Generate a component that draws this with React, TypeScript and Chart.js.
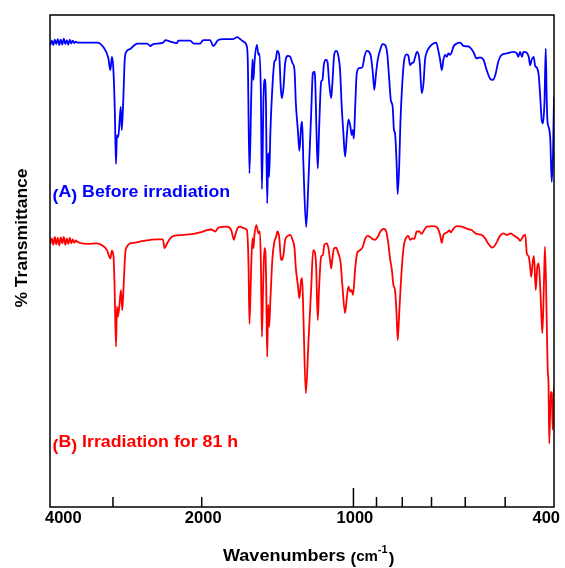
import React, { useEffect, useRef } from "react";
import { Chart, registerables } from "chart.js";

Chart.register(...registerables);

// Spectrum (A): before irradiation — wavenumber (cm-1) and transmittance (arb. %)
const wavenumbersA = [
  3995, 3967, 3940, 3913, 3887, 3860, 3834, 3808, 3781, 3756,
  3729, 3705, 3679, 3654, 3629, 3605, 3580, 3555, 3531,
  3376, 3223, 3136, 3065, 3037, 3014, 2996, 2975, 2959, 2946,
  2928, 2908, 2895, 2882, 2862, 2843, 2823, 2772, 2685, 2565,
  2530, 2496, 2384, 2363, 2309, 2237, 2227, 2108, 2076, 2014,
  1986, 1924, 1898, 1855, 1813, 1732, 1701, 1678, 1653, 1627,
  1620, 1608, 1595, 1586, 1579, 1572, 1555, 1543, 1536, 1526,
  1519, 1508, 1499, 1492, 1483, 1476, 1470, 1461, 1448, 1435,
  1426, 1417, 1404, 1393, 1387, 1377, 1366, 1349, 1335, 1321,
  1309, 1301, 1289, 1280, 1270, 1264, 1257, 1241, 1228, 1213,
  1204, 1197, 1191, 1184, 1177, 1170, 1159, 1152, 1145, 1134,
  1126, 1117, 1107, 1101, 1092, 1082, 1074, 1063, 1055, 1047,
  1039, 1031, 1023, 1015, 1008, 1003, 998, 992, 985, 974,
  960, 951, 941, 931, 923, 915, 909, 902, 895, 885,
  876, 865, 857, 849, 843, 836, 831, 827, 821, 817,
  811, 807, 800, 793, 784, 778, 772, 766, 759, 754,
  748, 741, 738, 732, 726, 721, 715, 705, 694, 685,
  679, 673, 668, 663, 658, 653, 648, 643, 638, 633,
  624, 614, 605, 592, 578, 570, 561, 552, 544, 536,
  529, 523, 516, 508, 496, 488, 482, 474, 471, 467,
  463, 460, 454, 449, 446, 443, 439, 436, 432, 429,
  426.4, 423.1, 420.6, 417.7, 415.4, 413.5, 412.0, 409.2, 406.8, 404.2,
  401.8, 400,
];
const transmittanceA = [
  93.9, 94.8, 93.9, 95.0, 94.1, 95.1, 93.9, 95.0, 94.0, 95.2,
  94.1, 94.9, 94.0, 95.0, 94.2, 94.8, 94.3, 94.6, 94.4,
  94.4, 94.4, 93.5, 91.3, 88.8, 91.5, 89.4, 80.7, 69.7, 75.6,
  75.2, 79.1, 81.3, 76.6, 82.7, 90.9, 92.5, 93.1, 94.2, 94.2,
  93.7, 94.1, 94.4, 94.9, 94.6, 94.3, 94.8, 94.8, 94.2, 94.2,
  94.9, 94.9, 93.7, 94.9, 95.1, 95.1, 95.5, 95.1, 94.6, 93.6,
  90.2, 67.8, 83.4, 91.0, 86.8, 90.2, 93.9, 91.9, 92.2, 83.4,
  64.6, 83.4, 86.9, 83.4, 61.7, 71.9, 67.1, 76.6, 85.4, 90.5,
  90.9, 92.7, 91.9, 84.8, 83.1, 85.1, 90.2, 91.7, 91.5, 90.2,
  88.8, 82.1, 76.6, 72.4, 77.3, 78.3, 69.9, 56.9, 66.5, 80.0,
  88.1, 88.5, 86.8, 76.6, 68.8, 76.6, 86.4, 86.8, 89.8, 90.9,
  90.5, 86.1, 83.1, 86.1, 91.9, 92.7, 92.2, 88.8, 81.4, 76.0,
  71.2, 75.3, 78.8, 77.6, 75.6, 76.6, 74.9, 81.4, 88.1, 89.2,
  89.4, 91.5, 92.7, 92.5, 91.5, 88.1, 84.8, 88.1, 90.9, 92.9,
  94.1, 93.9, 92.2, 86.8, 82.7, 81.4, 76.6, 76.0, 69.9, 63.6,
  69.9, 78.0, 86.1, 90.9, 92.0, 91.7, 89.8, 90.2, 90.5, 91.5,
  92.5, 91.5, 89.7, 84.1, 86.2, 90.9, 92.5, 93.6, 94.2, 94.4,
  92.9, 90.9, 88.8, 90.9, 91.9, 91.5, 92.2, 91.9, 92.5, 93.6,
  94.2, 94.4, 93.7, 93.6, 92.5, 91.2, 91.4, 90.9, 88.8, 87.1,
  86.8, 87.8, 90.5, 91.9, 92.2, 92.4, 92.5, 92.2, 91.5, 92.5,
  91.5, 92.5, 92.4, 91.5, 89.8, 90.9, 91.5, 89.7, 89.2, 87.8,
  84.1, 78.7, 78.0, 82.7, 93.2, 82.7, 78.2, 77.0, 74.6, 66.1,
  72.0, 83.3,
];

// Spectrum (B): irradiation for 81 h
const wavenumbersB = [
  3995, 3967, 3940, 3913, 3887, 3860, 3834, 3808, 3781, 3756,
  3729, 3705, 3679, 3654, 3629, 3605, 3580, 3555, 3531,
  3376, 3225, 3132, 3083, 3037, 3014, 2992, 2978, 2959, 2946,
  2933, 2915, 2892, 2875, 2858, 2836, 2814, 2772, 2731, 2609,
  2454, 2388, 2370, 2345, 2309, 2275, 2173, 2076, 2014, 1953,
  1916, 1880, 1853, 1783, 1748, 1726, 1716, 1695, 1678, 1653,
  1627, 1615, 1608, 1595, 1586, 1579, 1572, 1558, 1543, 1533,
  1526, 1519, 1510, 1502, 1495, 1490, 1483, 1476, 1470, 1461,
  1448, 1435, 1424, 1415, 1404, 1393, 1387, 1377, 1366, 1349,
  1335, 1321, 1309, 1301, 1289, 1280, 1270, 1264, 1257, 1243,
  1228, 1213, 1202, 1195, 1186, 1177, 1170, 1159, 1150, 1142,
  1129, 1121, 1112, 1107, 1101, 1092, 1082, 1072, 1061, 1052,
  1039, 1031, 1023, 1014, 1008, 1002, 992, 983, 970, 958,
  948, 937, 927, 917, 906, 895, 884, 872, 863, 852,
  846, 839, 833, 827, 821, 817, 811, 807, 800, 793,
  784, 778, 772, 764, 757, 749, 740, 732, 724, 715,
  694, 682, 673, 668, 663, 653, 645, 641, 635, 624,
  610, 596, 583, 570, 557, 548, 540, 530, 521, 512,
  504, 496, 488, 482, 476, 471, 467, 463, 460, 456,
  453, 449, 446, 444, 440.3, 438.2, 434.9, 431.7, 428.9, 426.4,
  423.9, 421.8, 418.7, 416.8, 413.5, 411.7, 410.2, 408.7, 406.1, 404.2,
  402.4, 400,
];
const transmittanceB = [
  53.5, 54.6, 53.3, 54.9, 53.4, 54.7, 53.2, 54.8, 53.6, 54.9,
  53.3, 54.6, 53.5, 54.7, 53.6, 54.4, 53.7, 54.2, 53.9,
  53.5, 53.6, 53.0, 52.2, 50.5, 52.1, 50.9, 44.8, 32.6, 40.7,
  38.7, 40.7, 44.1, 40.0, 44.8, 51.6, 52.9, 53.6, 53.7, 54.1,
  54.4, 54.4, 52.6, 53.5, 54.6, 55.1, 55.3, 55.5, 55.8, 56.3,
  56.4, 56.0, 56.8, 57.0, 56.3, 54.3, 55.3, 56.8, 57.0, 56.7,
  56.3, 49.2, 37.2, 49.2, 54.6, 52.6, 55.3, 57.3, 55.6, 56.0,
  49.2, 34.6, 45.8, 52.6, 51.9, 45.8, 30.5, 41.1, 36.6, 42.4,
  50.5, 53.9, 54.9, 56.0, 54.9, 50.5, 50.2, 51.2, 54.3, 55.1,
  55.3, 54.3, 52.6, 48.5, 45.1, 42.4, 46.1, 46.5, 39.0, 23.1,
  33.6, 44.5, 52.2, 52.0, 49.2, 38.0, 44.5, 50.9, 51.2, 53.3,
  53.6, 52.6, 49.9, 48.5, 50.5, 52.6, 52.7, 51.6, 49.9, 45.1,
  39.4, 42.4, 44.8, 43.8, 44.1, 43.1, 48.5, 51.6, 52.2, 52.9,
  54.5, 55.1, 54.9, 54.5, 54.3, 54.9, 56.0, 56.5, 56.3, 53.3,
  50.5, 48.2, 45.1, 44.1, 39.0, 33.9, 39.7, 43.8, 49.9, 53.6,
  54.9, 55.1, 54.3, 54.6, 54.5, 56.0, 56.0, 55.5, 56.3, 57.0,
  57.1, 56.8, 55.3, 53.7, 55.3, 55.8, 56.2, 55.8, 56.4, 57.1,
  57.0, 56.6, 56.3, 55.5, 55.3, 54.6, 53.5, 52.7, 53.6, 55.1,
  55.6, 55.3, 55.6, 55.3, 54.9, 54.6, 54.1, 54.6, 55.1, 55.3,
  51.6, 50.9, 48.8, 46.8, 50.2, 51.0, 44.1, 48.8, 49.5, 45.5,
  39.4, 35.3, 46.1, 52.9, 38.0, 27.8, 25.2, 12.9, 23.4, 23.2,
  15.7, 24.5,
];

// Axis ticks and labels
const xMinorTicks = [3000, 2000, 1000, 900, 800, 700, 600, 500];
const xLabelValues = [4000, 2000, 1000, 400];
const xLabelTexts = ["4000", "2000", "1000", "400"];
const xRange = [400, 4000];
const yRange = [0, 100];

const seriesNames = ["(A) Before irradiation", "(B) Irradiation for 81 h"];

const FONT = '"Liberation Sans", Arial, Helvetica, sans-serif';

function drawStretched(ctx: CanvasRenderingContext2D, text: string, x: number, y: number, sx: number) {
  ctx.save();
  ctx.translate(x, y);
  ctx.scale(sx, 1);
  ctx.fillText(text, 0, 0);
  ctx.restore();
  return ctx.measureText(text).width * sx;
}

function drawParenLabel(ctx: CanvasRenderingContext2D, full: string, x: number, baseline: number, color: string) {
  const m = full.match(/^\((\w)\)\s(.*)$/);
  ctx.fillStyle = color;
  ctx.font = `bold 17px ${FONT}`;
  ctx.textAlign = "left";
  ctx.textBaseline = "alphabetic";
  const sx = 1.045;
  if (!m) {
    drawStretched(ctx, full, x, baseline, sx);
    return;
  }
  let cx = x;
  cx += drawStretched(ctx, "(", cx, baseline + 4, sx);
  cx += drawStretched(ctx, m[1], cx, baseline, sx);
  cx += drawStretched(ctx, ")", cx, baseline + 4, sx);
  cx += drawStretched(ctx, " ", cx, baseline, sx);
  drawStretched(ctx, m[2], cx, baseline, sx);
}

const overlayPlugin = {
  id: "irOverlay",
  afterDraw(chart: any) {
    const { ctx, chartArea } = chart;
    const { left, right, top, bottom } = chartArea;
    const xs = chart.scales.x;
    ctx.save();
    ctx.strokeStyle = "#000";
    ctx.lineWidth = 1.5;
    ctx.strokeRect(left, top, right - left, bottom - top);
    xMinorTicks.forEach((v) => {
      const px = xs.getPixelForValue(v);
      const len = v === 1000 ? 19 : 10;
      ctx.beginPath();
      ctx.moveTo(px, bottom);
      ctx.lineTo(px, bottom - len);
      ctx.stroke();
    });
    ctx.fillStyle = "#000";
    ctx.font = `bold 16.5px ${FONT}`;
    ctx.textBaseline = "alphabetic";
    xLabelValues.forEach((v, i) => {
      const px = xs.getPixelForValue(v);
      if (i === 0) {
        ctx.textAlign = "left";
        ctx.fillText(xLabelTexts[i], px - 5, bottom + 16);
      } else if (i === xLabelValues.length - 1) {
        ctx.textAlign = "right";
        ctx.fillText(xLabelTexts[i], px + 6, bottom + 16);
      } else {
        ctx.textAlign = "center";
        ctx.fillText(xLabelTexts[i], px + 1.5, bottom + 16);
      }
    });
    ctx.textAlign = "left";
    ctx.font = `bold 17px ${FONT}`;
    let tx = 223;
    const tb = 561;
    tx += drawStretched(ctx, "Wavenumbers ", tx, tb, 1.06);
    tx += drawStretched(ctx, "(", tx, tb + 3, 1.0);
    ctx.font = `bold 15px ${FONT}`;
    tx += drawStretched(ctx, "cm", tx, tb, 1.0);
    ctx.font = `bold 11px ${FONT}`;
    tx += drawStretched(ctx, "-1", tx, tb - 8, 1.0) + 1;
    ctx.font = `bold 17px ${FONT}`;
    drawStretched(ctx, ")", tx, tb + 3, 1.0);
    ctx.save();
    ctx.translate(27, 238);
    ctx.rotate(-Math.PI / 2);
    ctx.textAlign = "center";
    ctx.font = `bold 17px ${FONT}`;
    ctx.scale(1.03, 1);
    ctx.fillText("% Transmittance", 0, 0);
    ctx.restore();
    drawParenLabel(ctx, seriesNames[0], 52.5, 196.5, "#0000ff");
    drawParenLabel(ctx, seriesNames[1], 52.5, 446.5, "#ff0000");
    ctx.restore();
  },
};

export default function App() {
  const ref = useRef<HTMLCanvasElement | null>(null);
  useEffect(() => {
    if (!ref.current) return;
    const chart = new Chart(ref.current, {
      type: "line",
      data: {
        datasets: [
          {
            label: seriesNames[0],
            data: wavenumbersA.map((w, i) => ({ x: w, y: transmittanceA[i] })),
            borderColor: "#0000ff",
            borderWidth: 1.8,
            pointRadius: 0,
            cubicInterpolationMode: "monotone",
            fill: false,
          },
          {
            label: seriesNames[1],
            data: wavenumbersB.map((w, i) => ({ x: w, y: transmittanceB[i] })),
            borderColor: "#ff0000",
            borderWidth: 1.8,
            pointRadius: 0,
            cubicInterpolationMode: "monotone",
            fill: false,
          },
        ],
      },
      options: {
        animation: false,
        responsive: false,
        devicePixelRatio: 1,
        layout: { padding: { left: 50, right: 11, top: 15, bottom: 61 } },
        scales: {
          x: { type: "logarithmic", reverse: true, min: xRange[0], max: xRange[1], display: false },
          y: { type: "linear", min: yRange[0], max: yRange[1], display: false },
        },
        plugins: { legend: { display: false }, tooltip: { enabled: false } },
      },
      plugins: [overlayPlugin],
    });
    return () => chart.destroy();
  }, []);
  return (
    <div style={{ position: "fixed", left: 0, top: 0, width: 565, height: 568, background: "#fff" }}>
      <canvas ref={ref} width={565} height={568} style={{ display: "block" }} />
    </div>
  );
}
